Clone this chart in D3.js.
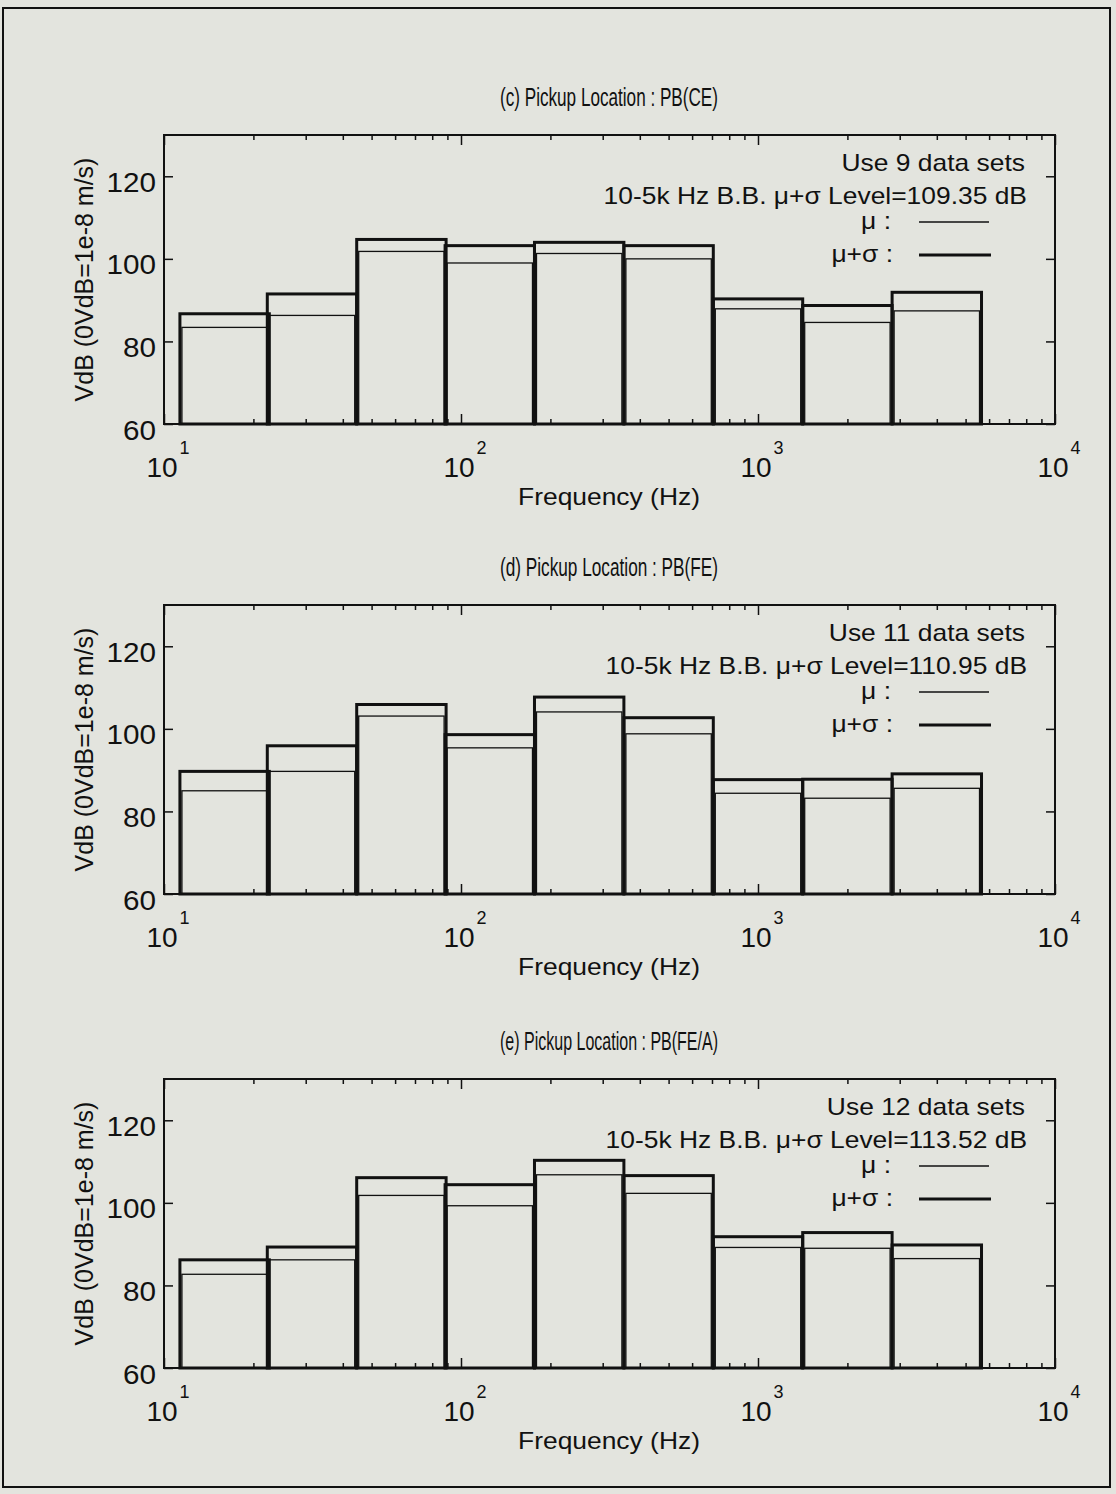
<!DOCTYPE html>
<html>
<head>
<meta charset="utf-8">
<script src="https://cdn.jsdelivr.net/npm/d3@7"></script>
<style>
  html, body { margin: 0; padding: 0; background: #e3e4de; }
  svg { display: block; }
  text { font-family: "Liberation Sans", Arial, Helvetica, sans-serif; fill: #111; }
</style>
</head>
<body>
<svg id="chart" width="1116" height="1494"></svg>
<script>
// octave band centres (Hz)
const bandCenters = [16, 31.5, 63, 125, 250, 500, 1000, 2000, 4000];

const panelTitles = [
  '(c) Pickup Location : PB(CE)',
  '(d) Pickup Location : PB(FE)',
  '(e) Pickup Location : PB(FE/A)'
];
const dataSetCounts = [9, 11, 12];
const bbLevels = ['109.35', '110.95', '113.52'];

// mean level per band (VdB)
const meanCE = [83.4, 86.3, 101.8, 99.0, 101.3, 100.0, 87.9, 84.6, 87.4];
const meanFE = [85.0, 89.7, 103.1, 95.4, 104.1, 98.8, 84.4, 83.2, 85.6];
const meanFEA = [82.7, 86.2, 101.8, 99.3, 106.8, 102.3, 89.2, 89.0, 86.5];

// mean + sigma level per band (VdB)
const upperCE = [86.7, 91.5, 104.7, 103.2, 104.0, 103.2, 90.3, 88.7, 91.9];
const upperFE = [89.7, 95.9, 105.9, 98.6, 107.7, 102.7, 87.7, 87.8, 89.1];
const upperFEA = [86.2, 89.3, 106.1, 104.4, 110.3, 106.6, 91.8, 92.8, 89.8];

const yTicks = [60, 80, 100, 120];
const xDecades = [10, 100, 1000, 10000];

const panels = [
  { title: panelTitles[0], n: dataSetCounts[0], level: bbLevels[0], mean: meanCE, upper: upperCE },
  { title: panelTitles[1], n: dataSetCounts[1], level: bbLevels[1], mean: meanFE, upper: upperFE },
  { title: panelTitles[2], n: dataSetCounts[2], level: bbLevels[2], mean: meanFEA, upper: upperFEA }
];

const svg = d3.select('#chart');
const left = 164, right = 1055, plotH = 289;
const tops = [135, 605, 1079];

// the scanned lettering is a bit wider than Liberation Sans
const widen = (sel, f) => {
  sel.each(function () {
    const w = this.getComputedTextLength();
    d3.select(this).attr('textLength', w * f).attr('lengthAdjust', 'spacingAndGlyphs');
  });
};

// outer frame
svg.append('rect')
  .attr('x', 3).attr('y', 8)
  .attr('width', 1107).attr('height', 1479)
  .attr('fill', 'none').attr('stroke', '#111').attr('stroke-width', 2);

panels.forEach((p, i) => {
  const top = tops[i], bottom = top + plotH;
  const x = d3.scaleLog().domain([10, 1e4]).range([left, right]);
  const y = d3.scaleLinear().domain([60, 130]).range([bottom, top]);
  const g = svg.append('g');

  const minor = x.ticks().filter(t => xDecades.indexOf(t) < 0);

  // bars: mean + sigma (thick) and mean (thin)
  const bars = g.append('g');
  bandCenters.forEach((c, k) => {
    const x0 = x(c / Math.SQRT2), x1 = x(c * Math.SQRT2);
    bars.append('rect')
      .attr('x', x0 + 2).attr('y', y(p.mean[k]))
      .attr('width', x1 - x0 - 4).attr('height', bottom - y(p.mean[k]))
      .attr('fill', 'none').attr('stroke', '#111').attr('stroke-width', 1.3);
    bars.append('rect')
      .attr('x', x0).attr('y', y(p.upper[k]))
      .attr('width', x1 - x0).attr('height', bottom - y(p.upper[k]))
      .attr('fill', 'none').attr('stroke', '#111').attr('stroke-width', 3);
  });

  // axes (ticks pointing inwards)
  const axStyle = sel => {
    sel.select('.domain').remove();
    sel.selectAll('line').attr('stroke', '#111').attr('stroke-width', 1.5);
  };
  g.append('g').attr('transform', `translate(0,${bottom})`)
    .call(d3.axisBottom(x).tickValues(minor).tickSize(-5).tickFormat(''))
    .call(axStyle);
  g.append('g').attr('transform', `translate(0,${bottom})`)
    .call(d3.axisBottom(x).tickValues(xDecades).tickSize(-10).tickFormat(''))
    .call(axStyle);
  g.append('g').attr('transform', `translate(0,${top})`)
    .call(d3.axisTop(x).tickValues(minor).tickSize(-5).tickFormat(''))
    .call(axStyle);
  g.append('g').attr('transform', `translate(0,${top})`)
    .call(d3.axisTop(x).tickValues(xDecades).tickSize(-10).tickFormat(''))
    .call(axStyle);

  const yl = g.append('g').attr('transform', `translate(${left},0)`)
    .call(d3.axisLeft(y).tickValues(yTicks).tickSize(-9).tickPadding(8))
    .call(axStyle);
  yl.selectAll('text')
    .attr('font-size', 28).attr('dy', '0.54em')
    .style('font-family', '"Liberation Sans", Arial, sans-serif').attr('fill', '#111');
  widen(yl.selectAll('text'), 1.06);
  g.append('g').attr('transform', `translate(${right},0)`)
    .call(d3.axisRight(y).tickValues(yTicks).tickSize(-9).tickFormat(''))
    .call(axStyle);

  // x tick labels 10^n
  xDecades.forEach(d => {
    const t = g.append('text')
      .attr('x', x(d) + 4).attr('y', bottom + 53)
      .attr('text-anchor', 'middle').attr('font-size', 28);
    t.append('tspan').text('10');
    t.append('tspan').attr('font-size', 18).attr('dy', -23).attr('dx', 2)
      .text(Math.round(Math.log10(d)));
  });

  // frame
  g.append('rect')
    .attr('x', left).attr('y', top)
    .attr('width', right - left).attr('height', plotH)
    .attr('fill', 'none').attr('stroke', '#111').attr('stroke-width', 2);

  // titles and labels
  g.append('text')
    .attr('x', 609).attr('y', top - 29)
    .attr('text-anchor', 'middle').attr('font-size', 25)
    .style('font-family', '"Liberation Sans Narrow", "Arial Narrow", "Liberation Sans", sans-serif')
    .attr('textLength', 218).attr('lengthAdjust', 'spacingAndGlyphs')
    .text(p.title);

  const xl = g.append('text')
    .attr('x', 609).attr('y', bottom + 81)
    .attr('text-anchor', 'middle').attr('font-size', 24)
    .text('Frequency (Hz)');
  widen(xl, 1.1);

  g.append('text')
    .attr('transform', `translate(93,${(top + bottom) / 2}) rotate(-90)`)
    .attr('text-anchor', 'middle').attr('font-size', 25)
    .text('VdB (0VdB=1e-8 m/s)');

  // legend block
  const lg = g.append('g');
  lg.append('text')
    .attr('x', 1025).attr('y', top + 36)
    .attr('text-anchor', 'end').attr('font-size', 24)
    .text(`Use ${p.n} data sets`);
  lg.append('text')
    .attr('x', 1027).attr('y', top + 69)
    .attr('text-anchor', 'end').attr('font-size', 24)
    .text(`10-5k Hz B.B.  \u03bc+\u03c3 Level=${p.level} dB`);
  lg.append('text')
    .attr('x', 891).attr('y', top + 94)
    .attr('text-anchor', 'end').attr('font-size', 24)
    .text('\u03bc :');
  lg.append('text')
    .attr('x', 893).attr('y', top + 127)
    .attr('text-anchor', 'end').attr('font-size', 24)
    .text('\u03bc+\u03c3 :');
  widen(lg.selectAll('text'), 1.1);
  lg.append('line')
    .attr('x1', 919).attr('x2', 989).attr('y1', top + 87).attr('y2', top + 87)
    .attr('stroke', '#111').attr('stroke-width', 1.3);
  lg.append('line')
    .attr('x1', 919).attr('x2', 991).attr('y1', top + 120).attr('y2', top + 120)
    .attr('stroke', '#111').attr('stroke-width', 3);
});
</script>
</body>
</html>
